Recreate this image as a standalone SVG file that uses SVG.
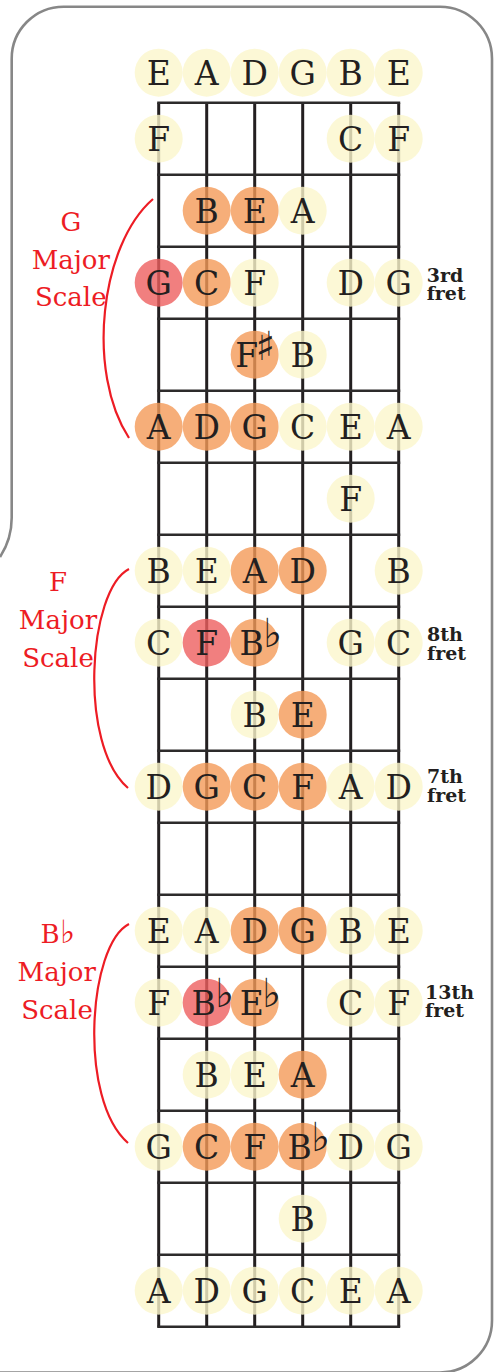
<svg xmlns="http://www.w3.org/2000/svg" width="501" height="1372" viewBox="0 0 501 1372">
<style>
.frame{fill:none;stroke:#878787;stroke-width:2.6}
.str{stroke:#231f20;stroke-width:3}
.fret{stroke:#2d2b2b;stroke-width:2.6}
.y{fill:#FBF6CC;fill-opacity:.8}
.o{fill:#F49A58;fill-opacity:.8}
.r{fill:#ED5F5F;fill-opacity:.8}
.t{font-family:"DejaVu Serif",serif;font-size:33px;fill:#231f20;text-anchor:middle}
.acc{font-family:"DejaVu Sans",sans-serif;font-size:40px;fill:#231f20}
.lbl{font-family:"DejaVu Serif",serif;font-size:26px;fill:#ED1C24;text-anchor:middle}
.lacc{font-family:"DejaVu Sans",sans-serif;font-size:32px;fill:#ED1C24}
.fl{font-family:"DejaVu Serif",serif;font-size:19px;font-weight:bold;fill:#231f20}
.brace{fill:none;stroke:#ED1C24;stroke-width:2.2}
</style>
<path class="frame" d="M0,557 A72,72 0 0 0 11.7,517 L11.7,59 A52,52 0 0 1 63.7,6.7 L440,6.7 A52,52 0 0 1 492,58.7 L492,1320.5 A52,52 0 0 1 440,1372.5 L0,1372.5"/>
<g id="fretboard">
<g id="strings">
<line class="str" x1="158.7" y1="102.7" x2="158.7" y2="1326.7"/>
<line class="str" x1="206.7" y1="102.7" x2="206.7" y2="1326.7"/>
<line class="str" x1="254.7" y1="102.7" x2="254.7" y2="1326.7"/>
<line class="str" x1="302.7" y1="102.7" x2="302.7" y2="1326.7"/>
<line class="str" x1="350.7" y1="102.7" x2="350.7" y2="1326.7"/>
<line class="str" x1="398.7" y1="102.7" x2="398.7" y2="1326.7"/>
</g>
<g id="frets">
<line class="fret" x1="157.2" y1="102.7" x2="400.2" y2="102.7"/>
<line class="fret" x1="157.2" y1="174.7" x2="400.2" y2="174.7"/>
<line class="fret" x1="157.2" y1="246.7" x2="400.2" y2="246.7"/>
<line class="fret" x1="157.2" y1="318.7" x2="400.2" y2="318.7"/>
<line class="fret" x1="157.2" y1="390.7" x2="400.2" y2="390.7"/>
<line class="fret" x1="157.2" y1="462.7" x2="400.2" y2="462.7"/>
<line class="fret" x1="157.2" y1="534.7" x2="400.2" y2="534.7"/>
<line class="fret" x1="157.2" y1="606.7" x2="400.2" y2="606.7"/>
<line class="fret" x1="157.2" y1="678.7" x2="400.2" y2="678.7"/>
<line class="fret" x1="157.2" y1="750.7" x2="400.2" y2="750.7"/>
<line class="fret" x1="157.2" y1="822.7" x2="400.2" y2="822.7"/>
<line class="fret" x1="157.2" y1="894.7" x2="400.2" y2="894.7"/>
<line class="fret" x1="157.2" y1="966.7" x2="400.2" y2="966.7"/>
<line class="fret" x1="157.2" y1="1038.7" x2="400.2" y2="1038.7"/>
<line class="fret" x1="157.2" y1="1110.7" x2="400.2" y2="1110.7"/>
<line class="fret" x1="157.2" y1="1182.7" x2="400.2" y2="1182.7"/>
<line class="fret" x1="157.2" y1="1254.7" x2="400.2" y2="1254.7"/>
<line class="fret" x1="157.2" y1="1326.7" x2="400.2" y2="1326.7"/>
</g>
</g>
<g id="braces">
<path class="brace" d="M153,199 C100,245 86,372 129,438"/>
<path class="brace" d="M129,569 C88,590 78,745 128,788"/>
<path class="brace" d="M129,924 C88,945 78,1100 128,1143"/>
</g>
<g id="label-g"><text class="lbl" x="70.8" y="230.7">G</text><text class="lbl" x="70.8" y="269">Major</text><text class="lbl" x="70.8" y="306">Scale</text></g>
<g id="label-f"><text class="lbl" x="58" y="590.7">F</text><text class="lbl" x="58" y="628.5">Major</text><text class="lbl" x="58" y="666.5">Scale</text></g>
<g id="label-bb"><text class="lbl" x="50" y="942.7">B</text><text class="lacc" x="60" y="942.7">♭</text><text class="lbl" x="56.7" y="981">Major</text><text class="lbl" x="57" y="1018.5">Scale</text></g>
<g id="fret-labels">
<text class="fl"><tspan x="426.7" y="281.5">3rd</tspan><tspan x="426.7" y="300">fret</tspan></text>
<text class="fl"><tspan x="427" y="641">8th</tspan><tspan x="427" y="659.5">fret</tspan></text>
<text class="fl"><tspan x="427" y="783">7th</tspan><tspan x="427" y="801.5">fret</tspan></text>
<text class="fl"><tspan x="425" y="998.5">13th</tspan><tspan x="425" y="1017">fret</tspan></text>
</g>
<g id="notes">
<g id="r0s0"><circle class="y" cx="158.7" cy="72.7" r="24"/><text class="t" x="158.7" y="84.7">E</text></g>
<g id="r0s1"><circle class="y" cx="206.7" cy="72.7" r="24"/><text class="t" x="206.7" y="84.7">A</text></g>
<g id="r0s2"><circle class="y" cx="254.7" cy="72.7" r="24"/><text class="t" x="254.7" y="84.7">D</text></g>
<g id="r0s3"><circle class="y" cx="302.7" cy="72.7" r="24"/><text class="t" x="302.7" y="84.7">G</text></g>
<g id="r0s4"><circle class="y" cx="350.7" cy="72.7" r="24"/><text class="t" x="350.7" y="84.7">B</text></g>
<g id="r0s5"><circle class="y" cx="398.7" cy="72.7" r="24"/><text class="t" x="398.7" y="84.7">E</text></g>

<g id="r1s0"><circle class="y" cx="158.7" cy="138.7" r="24"/><text class="t" x="158.7" y="150.7">F</text></g>
<g id="r1s4"><circle class="y" cx="350.7" cy="138.7" r="24"/><text class="t" x="350.7" y="150.7">C</text></g>
<g id="r1s5"><circle class="y" cx="398.7" cy="138.7" r="24"/><text class="t" x="398.7" y="150.7">F</text></g>

<g id="r2s1"><circle class="o" cx="206.7" cy="210.7" r="24"/><text class="t" x="206.7" y="222.7">B</text></g>
<g id="r2s2"><circle class="o" cx="254.7" cy="210.7" r="24"/><text class="t" x="254.7" y="222.7">E</text></g>
<g id="r2s3"><circle class="y" cx="302.7" cy="210.7" r="24"/><text class="t" x="302.7" y="222.7">A</text></g>

<g id="r3s0"><circle class="r" cx="158.7" cy="282.7" r="24"/><text class="t" x="158.7" y="294.7">G</text></g>
<g id="r3s1"><circle class="o" cx="206.7" cy="282.7" r="24"/><text class="t" x="206.7" y="294.7">C</text></g>
<g id="r3s2"><circle class="y" cx="254.7" cy="282.7" r="24"/><text class="t" x="254.7" y="294.7">F</text></g>
<g id="r3s4"><circle class="y" cx="350.7" cy="282.7" r="24"/><text class="t" x="350.7" y="294.7">D</text></g>
<g id="r3s5"><circle class="y" cx="398.7" cy="282.7" r="24"/><text class="t" x="398.7" y="294.7">G</text></g>

<g id="r4s2"><circle class="o" cx="254.7" cy="354.7" r="24"/><text class="t" x="246.7" y="366.7">F</text><text class="acc" x="255.5" y="360">♯</text></g>
<g id="r4s3"><circle class="y" cx="302.7" cy="354.7" r="24"/><text class="t" x="302.7" y="366.7">B</text></g>

<g id="r5s0"><circle class="o" cx="158.7" cy="426.7" r="24"/><text class="t" x="158.7" y="438.7">A</text></g>
<g id="r5s1"><circle class="o" cx="206.7" cy="426.7" r="24"/><text class="t" x="206.7" y="438.7">D</text></g>
<g id="r5s2"><circle class="o" cx="254.7" cy="426.7" r="24"/><text class="t" x="254.7" y="438.7">G</text></g>
<g id="r5s3"><circle class="y" cx="302.7" cy="426.7" r="24"/><text class="t" x="302.7" y="438.7">C</text></g>
<g id="r5s4"><circle class="y" cx="350.7" cy="426.7" r="24"/><text class="t" x="350.7" y="438.7">E</text></g>
<g id="r5s5"><circle class="y" cx="398.7" cy="426.7" r="24"/><text class="t" x="398.7" y="438.7">A</text></g>

<g id="r6s4"><circle class="y" cx="350.7" cy="498.7" r="24"/><text class="t" x="350.7" y="510.7">F</text></g>

<g id="r7s0"><circle class="y" cx="158.7" cy="570.7" r="24"/><text class="t" x="158.7" y="582.7">B</text></g>
<g id="r7s1"><circle class="y" cx="206.7" cy="570.7" r="24"/><text class="t" x="206.7" y="582.7">E</text></g>
<g id="r7s2"><circle class="o" cx="254.7" cy="570.7" r="24"/><text class="t" x="254.7" y="582.7">A</text></g>
<g id="r7s3"><circle class="o" cx="302.7" cy="570.7" r="24"/><text class="t" x="302.7" y="582.7">D</text></g>
<g id="r7s5"><circle class="y" cx="398.7" cy="570.7" r="24"/><text class="t" x="398.7" y="582.7">B</text></g>

<g id="r8s0"><circle class="y" cx="158.7" cy="642.7" r="24"/><text class="t" x="158.7" y="654.7">C</text></g>
<g id="r8s1"><circle class="r" cx="206.7" cy="642.7" r="24"/><text class="t" x="206.7" y="654.7">F</text></g>
<g id="r8s2"><circle class="o" cx="254.7" cy="642.7" r="24"/><text class="t" x="251.7" y="654.7">B</text><text class="acc" x="263" y="647">♭</text></g>
<g id="r8s4"><circle class="y" cx="350.7" cy="642.7" r="24"/><text class="t" x="350.7" y="654.7">G</text></g>
<g id="r8s5"><circle class="y" cx="398.7" cy="642.7" r="24"/><text class="t" x="398.7" y="654.7">C</text></g>

<g id="r9s2"><circle class="y" cx="254.7" cy="714.7" r="24"/><text class="t" x="254.7" y="726.7">B</text></g>
<g id="r9s3"><circle class="o" cx="302.7" cy="714.7" r="24"/><text class="t" x="302.7" y="726.7">E</text></g>

<g id="r10s0"><circle class="y" cx="158.7" cy="786.7" r="24"/><text class="t" x="158.7" y="798.7">D</text></g>
<g id="r10s1"><circle class="o" cx="206.7" cy="786.7" r="24"/><text class="t" x="206.7" y="798.7">G</text></g>
<g id="r10s2"><circle class="o" cx="254.7" cy="786.7" r="24"/><text class="t" x="254.7" y="798.7">C</text></g>
<g id="r10s3"><circle class="o" cx="302.7" cy="786.7" r="24"/><text class="t" x="302.7" y="798.7">F</text></g>
<g id="r10s4"><circle class="y" cx="350.7" cy="786.7" r="24"/><text class="t" x="350.7" y="798.7">A</text></g>
<g id="r10s5"><circle class="y" cx="398.7" cy="786.7" r="24"/><text class="t" x="398.7" y="798.7">D</text></g>

<g id="r12s0"><circle class="y" cx="158.7" cy="930.7" r="24"/><text class="t" x="158.7" y="942.7">E</text></g>
<g id="r12s1"><circle class="y" cx="206.7" cy="930.7" r="24"/><text class="t" x="206.7" y="942.7">A</text></g>
<g id="r12s2"><circle class="o" cx="254.7" cy="930.7" r="24"/><text class="t" x="254.7" y="942.7">D</text></g>
<g id="r12s3"><circle class="o" cx="302.7" cy="930.7" r="24"/><text class="t" x="302.7" y="942.7">G</text></g>
<g id="r12s4"><circle class="y" cx="350.7" cy="930.7" r="24"/><text class="t" x="350.7" y="942.7">B</text></g>
<g id="r12s5"><circle class="y" cx="398.7" cy="930.7" r="24"/><text class="t" x="398.7" y="942.7">E</text></g>

<g id="r13s0"><circle class="y" cx="158.7" cy="1002.7" r="24"/><text class="t" x="158.7" y="1014.7">F</text></g>
<g id="r13s1"><circle class="r" cx="206.7" cy="1002.7" r="24"/><text class="t" x="203.7" y="1014.7">B</text><text class="acc" x="215" y="1007">♭</text></g>
<g id="r13s2"><circle class="o" cx="254.7" cy="1002.7" r="24"/><text class="t" x="251.7" y="1014.7">E</text><text class="acc" x="262" y="1007">♭</text></g>
<g id="r13s4"><circle class="y" cx="350.7" cy="1002.7" r="24"/><text class="t" x="350.7" y="1014.7">C</text></g>
<g id="r13s5"><circle class="y" cx="398.7" cy="1002.7" r="24"/><text class="t" x="398.7" y="1014.7">F</text></g>

<g id="r14s1"><circle class="y" cx="206.7" cy="1074.7" r="24"/><text class="t" x="206.7" y="1086.7">B</text></g>
<g id="r14s2"><circle class="y" cx="254.7" cy="1074.7" r="24"/><text class="t" x="254.7" y="1086.7">E</text></g>
<g id="r14s3"><circle class="o" cx="302.7" cy="1074.7" r="24"/><text class="t" x="302.7" y="1086.7">A</text></g>

<g id="r15s0"><circle class="y" cx="158.7" cy="1146.7" r="24"/><text class="t" x="158.7" y="1158.7">G</text></g>
<g id="r15s1"><circle class="o" cx="206.7" cy="1146.7" r="24"/><text class="t" x="206.7" y="1158.7">C</text></g>
<g id="r15s2"><circle class="o" cx="254.7" cy="1146.7" r="24"/><text class="t" x="254.7" y="1158.7">F</text></g>
<g id="r15s3"><circle class="o" cx="302.7" cy="1146.7" r="24"/><text class="t" x="299.7" y="1158.7">B</text><text class="acc" x="311" y="1151">♭</text></g>
<g id="r15s4"><circle class="y" cx="350.7" cy="1146.7" r="24"/><text class="t" x="350.7" y="1158.7">D</text></g>
<g id="r15s5"><circle class="y" cx="398.7" cy="1146.7" r="24"/><text class="t" x="398.7" y="1158.7">G</text></g>

<g id="r16s3"><circle class="y" cx="302.7" cy="1218.7" r="24"/><text class="t" x="302.7" y="1230.7">B</text></g>

<g id="r17s0"><circle class="y" cx="158.7" cy="1290.7" r="24"/><text class="t" x="158.7" y="1302.7">A</text></g>
<g id="r17s1"><circle class="y" cx="206.7" cy="1290.7" r="24"/><text class="t" x="206.7" y="1302.7">D</text></g>
<g id="r17s2"><circle class="y" cx="254.7" cy="1290.7" r="24"/><text class="t" x="254.7" y="1302.7">G</text></g>
<g id="r17s3"><circle class="y" cx="302.7" cy="1290.7" r="24"/><text class="t" x="302.7" y="1302.7">C</text></g>
<g id="r17s4"><circle class="y" cx="350.7" cy="1290.7" r="24"/><text class="t" x="350.7" y="1302.7">E</text></g>
<g id="r17s5"><circle class="y" cx="398.7" cy="1290.7" r="24"/><text class="t" x="398.7" y="1302.7">A</text></g>
</g>
</svg>
